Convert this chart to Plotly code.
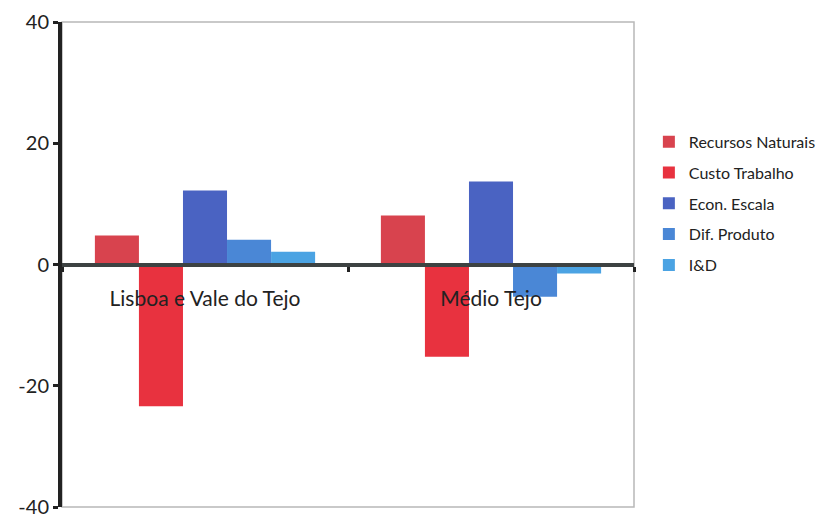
import plotly.graph_objects as go

categories = ["Lisboa e Vale do Tejo", "Médio Tejo"]
series_names = ["Recursos Naturais", "Custo Trabalho", "Econ. Escala", "Dif. Produto", "I&D"]
recursos = [4.8, 8.1]
custo = [-23.4, -15.2]
econ = [12.2, 13.7]
dif = [4.1, -5.3]
ind = [2.1, -1.5]
series_values = [recursos, custo, econ, dif, ind]
colors = ["#D8434E", "#E8323F", "#4A63C2", "#4A87D6", "#4BA3E3"]
y_ticks = [-40, -20, 0, 20, 40]
y_ticktext = ["-40", "-20", "0", "20", "40"]

fig = go.Figure()
for i, (name, vals, col) in enumerate(zip(series_names, series_values, colors)):
    fig.add_trace(go.Bar(x=categories, y=vals, name=name, marker_color=col,
                         marker_line_width=0, legendgroup=name))

font = "Lato, 'Open Sans', sans-serif"
fig.update_layout(
    width=820, height=517,
    margin=dict(l=62, r=186, t=22, b=10, autoexpand=False),
    paper_bgcolor="white", plot_bgcolor="white",
    barmode="group", bargap=0.23, bargroupgap=0,
    font=dict(family=font, size=18, color="#222"),
    showlegend=True,
    legend=dict(x=1.026, xanchor="left", y=0.788, yanchor="top",
                font=dict(size=16, color="#222"), tracegroupgap=7,
                traceorder="grouped", itemwidth=30, bgcolor="rgba(0,0,0,0)"),
    xaxis=dict(anchor="free", position=0.5, showline=True, linecolor="#3d4242", linewidth=4,
               ticks="outside", tickson="boundaries", ticklen=5, tickwidth=3, tickcolor="#222",
               showgrid=False, ticklabelstandoff=14, tickfont=dict(size=21, color="#222"),
               zeroline=False, automargin=False),
    yaxis=dict(range=[-40, 40], tickvals=y_ticks, ticktext=y_ticktext, showline=True,
               linecolor="#222", linewidth=4, automargin=False, ticklabeloverflow="allow",
               ticks="outside", ticklen=5, tickwidth=3, tickcolor="#222", showgrid=False,
               zeroline=False, tickfont=dict(size=20, color="#222")),
    shapes=[dict(type="rect", xref="paper", yref="paper", x0=0, x1=1, y0=0, y1=1,
                 line=dict(color="#b8b8b8", width=1.5), layer="below")],
)
fig.write_html("out.html", config={"displayModeBar": False},
               post_script="document.body.style.margin='0';document.body.style.padding='0';document.body.style.overflow='hidden';")
